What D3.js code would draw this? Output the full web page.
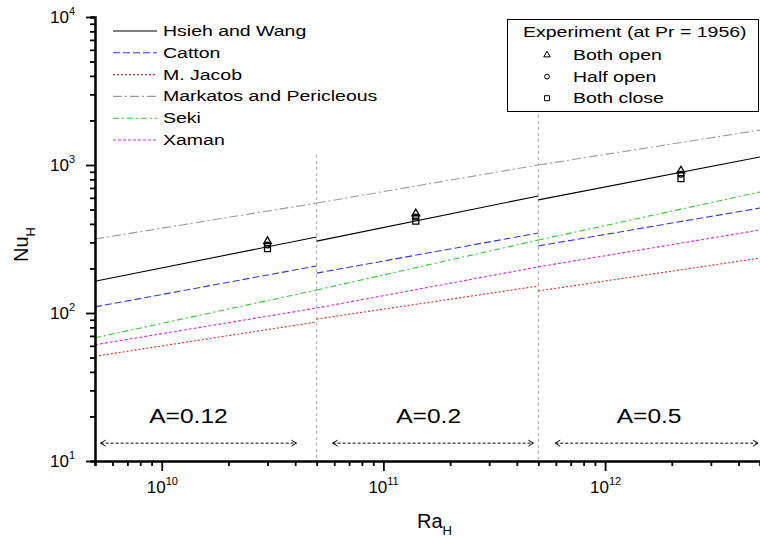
<!DOCTYPE html>
<html>
<head>
<meta charset="utf-8">
<script src="https://cdn.jsdelivr.net/npm/d3@7"></script>
<style>
  body { margin: 0; background: #fff; }
  svg { font-family: "Liberation Sans", Arial, sans-serif; }
</style>
</head>
<body>
<script>
// region borders on the Ra axis (one segment of each correlation per aspect ratio A)
var raEdges = [5e9, 5e10, 5e11, 5e12];
var regionLabels = ["A=0.12", "A=0.2", "A=0.5"];
var regionLabelRa = [1.32e10, 1.6e11, 1.58e12];

// Nu at start / end of each region
var hsieh    = [[164, 326], [306, 618], [581, 1132]];
var catton   = [[110, 208], [186, 347], [284, 512]];
var jacob    = [[51, 87],   [91, 152],  [141, 235]];
var markatos = [[316, 553], [553, 1000], [1000, 1722]];
var seki     = [[68, 143],  [143, 311], [311, 657]];
var xaman    = [[61, 108],  [108, 205], [205, 364]];

// experiment points
var expRa     = [3e10, 1.4e11, 2.2e12];
var bothOpen  = [305, 470, 915];
var halfOpen  = [288, 445, 865];
var bothClose = [272, 418, 810];

// arrow spans (Ra from, Ra to) at Nu = 13.2
var arrowSpans = [[5.3e9, 4.05e10], [5.9e10, 4.75e11], [5.96e11, 4.9e12]];
var arrowNu = 13.2;
var dividerTop = [1170, 2180];

var width = 760, height = 538;
var margin = { left: 95, right: 0, top: 17, bottom: 77 };

var svg = d3.select("body").append("svg")
  .attr("width", width)
  .attr("height", height);

var x = d3.scaleLog()
  .domain([5e9, 5e12])
  .range([margin.left, width - margin.right]);

var y = d3.scaleLog()
  .domain([10, 1e4])
  .range([height - margin.bottom, margin.top]);

var series = [
  { name: "Hsieh and Wang", data: hsieh, color: "#000", dash: null },
  { name: "Catton", data: catton, color: "#3a3ad0", dash: "7,3" },
  { name: "M. Jacob", data: jacob, color: "#e02828", dash: "2,2" },
  { name: "Markatos and Pericleous", data: markatos, color: "#9a9a9a", dash: "9,3,2,3" },
  { name: "Seki", data: seki, color: "#30c830", dash: "6,3,2,3" },
  { name: "Xaman", data: xaman, color: "#d030d0", dash: "3,2" }
];

// minor ticks for a log domain
function logTicks(lo, hi) {
  var out = [];
  for (var e = Math.floor(Math.log10(lo)); e <= Math.ceil(Math.log10(hi)); e++) {
    for (var m = 1; m < 10; m++) {
      var v = m * Math.pow(10, e);
      if (v >= lo * 0.999 && v <= hi * 1.001) out.push(v);
    }
  }
  return out;
}
function isMajor(v) {
  var l = Math.log10(v);
  return Math.abs(l - Math.round(l)) < 1e-9;
}

// text in the original is drawn a bit wider than the font
function wideText(g, tx, ty, str, size, sx) {
  return g.append("text")
    .attr("transform", "translate(" + tx + "," + ty + ") scale(" + sx + ",1)")
    .attr("font-size", size)
    .text(str);
}

// vertical region dividers
svg.selectAll("line.divider")
  .data([raEdges[1], raEdges[2]])
  .enter().append("line")
    .attr("x1", function(d) { return x(d); })
    .attr("x2", function(d) { return x(d); })
    .attr("y1", function(d, i) { return y(dividerTop[i]); })
    .attr("y2", y(10))
    .attr("stroke", "#aaa")
    .attr("stroke-width", 1)
    .attr("stroke-dasharray", "3,3");

// correlation lines, one segment per region
series.forEach(function(s) {
  svg.append("g").selectAll("line")
    .data(s.data)
    .enter().append("line")
      .attr("x1", function(d, i) { return x(raEdges[i]); })
      .attr("x2", function(d, i) { return x(raEdges[i + 1]); })
      .attr("y1", function(d) { return y(d[0]); })
      .attr("y2", function(d) { return y(d[1]); })
      .attr("stroke", s.color)
      .attr("stroke-width", 1.1)
      .attr("stroke-dasharray", s.dash);
});

// experiment symbols
var sym = [
  { name: "Both open", vals: bothOpen, type: d3.symbolTriangle, size: 26 },
  { name: "Half open", vals: halfOpen, type: d3.symbolCircle, size: 26 },
  { name: "Both close", vals: bothClose, type: d3.symbolSquare, size: 36 }
];
sym.forEach(function(s) {
  svg.append("g").selectAll("path")
    .data(s.vals)
    .enter().append("path")
      .attr("d", d3.symbol().type(s.type).size(s.size))
      .attr("transform", function(d, i) { return "translate(" + x(expRa[i]) + "," + y(d) + ")"; })
      .attr("fill", "none")
      .attr("stroke", "#000")
      .attr("stroke-width", 1.3);
});

// region labels and double arrows
regionLabels.forEach(function(d, i) {
  wideText(svg, x(regionLabelRa[i]), 423, d, 21, 1.17).attr("text-anchor", "middle");
});

var ay = y(arrowNu);
arrowSpans.forEach(function(a) {
  var x1 = x(a[0]), x2 = x(a[1]);
  svg.append("line")
    .attr("x1", x1).attr("x2", x2).attr("y1", ay).attr("y2", ay)
    .attr("stroke", "#000").attr("stroke-width", 1).attr("stroke-dasharray", "3,2");
  svg.append("path")
    .attr("d", "M" + (x1 + 5) + "," + (ay - 3) + "L" + x1 + "," + ay + "L" + (x1 + 5) + "," + (ay + 3)
      + "M" + (x2 - 5) + "," + (ay - 3) + "L" + x2 + "," + ay + "L" + (x2 - 5) + "," + (ay + 3))
    .attr("fill", "none").attr("stroke", "#000").attr("stroke-width", 1);
});

// axes
var xTicks = logTicks(5e9, 5e12);
var yTicks = logTicks(10, 1e4);

var xAxis = d3.axisBottom(x)
  .tickValues(xTicks)
  .tickFormat("")
  .tickSizeOuter(0)
  .tickSize(5);
var gx = svg.append("g")
  .attr("transform", "translate(0," + y(10) + ")")
  .call(xAxis);
gx.select(".domain").attr("stroke-width", 2.5);
gx.selectAll(".tick line")
  .attr("stroke-width", 1.8)
  .attr("y2", function(d) { return isMajor(d) ? 10 : 5; });

var yAxis = d3.axisLeft(y)
  .tickValues(yTicks)
  .tickFormat("")
  .tickSizeOuter(0)
  .tickSize(5);
var gy = svg.append("g")
  .attr("transform", "translate(" + x(5e9) + ",0)")
  .call(yAxis);
gy.select(".domain").attr("stroke-width", 2.5);
gy.selectAll(".tick line")
  .attr("stroke-width", 1.8)
  .attr("x2", function(d) { return isMajor(d) ? -9 : -5; });

// power-of-ten labels
var xMajors = xTicks.filter(isMajor);
var xl = svg.selectAll("text.xl").data(xMajors).enter().append("text")
  .attr("x", function(d) { return x(d) - 15; })
  .attr("y", 493)
  .attr("font-size", 17);
xl.append("tspan").text("10");
xl.append("tspan").attr("dy", -8).attr("font-size", 11).text(function(d) { return Math.round(Math.log10(d)); });

var yMajors = yTicks.filter(isMajor);
var yl = svg.selectAll("text.yl").data(yMajors).enter().append("text")
  .attr("x", 50)
  .attr("y", function(d) { return y(d) + 6; })
  .attr("font-size", 17);
yl.append("tspan").text("10");
yl.append("tspan").attr("dy", -8).attr("font-size", 11).text(function(d) { return Math.round(Math.log10(d)); });

// axis titles
var xt = svg.append("text").attr("x", 417).attr("y", 528).attr("font-size", 20);
xt.append("tspan").text("Ra");
xt.append("tspan").attr("dy", 7).attr("font-size", 13).text("H");

var yt = svg.append("text")
  .attr("transform", "translate(28,262) rotate(-90)")
  .attr("font-size", 20);
yt.append("tspan").text("Nu");
yt.append("tspan").attr("dy", 7).attr("font-size", 13).text("H");

// legend of correlations
var leg = svg.append("g");
series.forEach(function(s, i) {
  var by = 36 + i * 21.8;
  leg.append("line")
    .attr("x1", 113).attr("x2", 157).attr("y1", by - 5).attr("y2", by - 5)
    .attr("stroke", s.color).attr("stroke-width", 1.1).attr("stroke-dasharray", s.dash);
  wideText(leg, 163, by, s.name, 15, 1.3);
});

// legend of experiments
var leg2 = svg.append("g");
leg2.append("rect")
  .attr("x", 507.5).attr("y", 19.5).attr("width", 251).attr("height", 92)
  .attr("fill", "#fff").attr("stroke", "#000").attr("stroke-width", 1);
wideText(leg2, 523, 37, "Experiment (at Pr = 1956)", 15, 1.3);
sym.forEach(function(s, i) {
  var by = 60 + i * 21.6;
  leg2.append("path")
    .attr("d", d3.symbol().type(s.type).size(s.size * 0.7))
    .attr("transform", "translate(547," + (by - 5) + ")")
    .attr("fill", "none").attr("stroke", "#000").attr("stroke-width", 1);
  wideText(leg2, 573, by, s.name, 15, 1.3);
});
</script>
</body>
</html>
